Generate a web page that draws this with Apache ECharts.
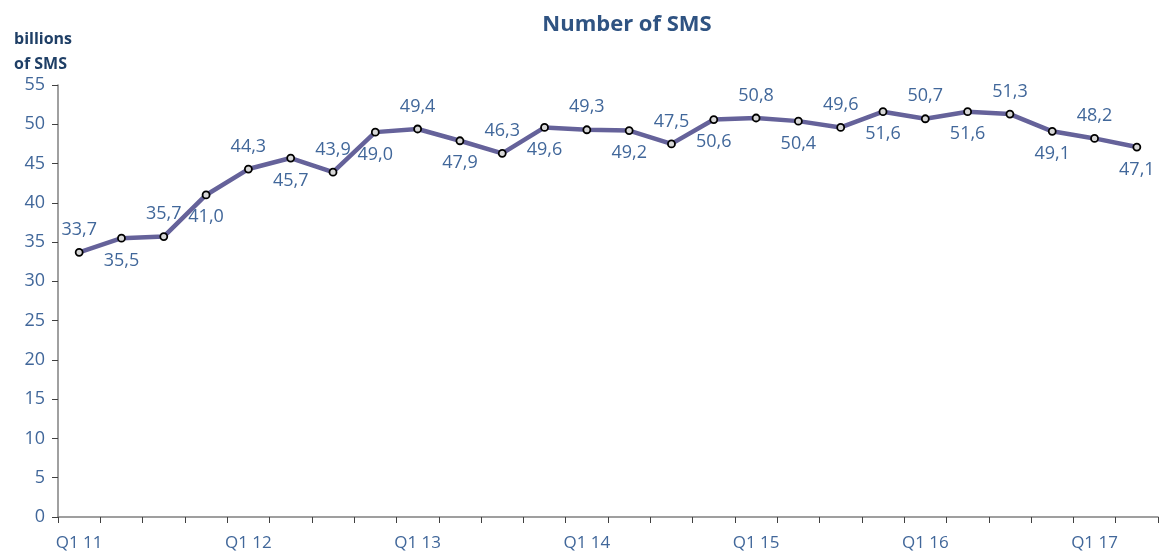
<!DOCTYPE html>
<html>
<head>
    <meta charset="UTF-8">
    <title>Number of SMS</title>
    <script src="https://cdn.jsdelivr.net/npm/echarts@6/dist/echarts.min.js"></script>
    <style>
        body { margin: 0; padding: 0; background: #fff; }
        #main { width: 1165px; height: 552px; }
    </style>
</head>
<body>
<div id="main"></div>
<script type="text/javascript">
    // quarters Q1 11 .. Q2 17
    var quarters = ['Q1 11', 'Q2 11', 'Q3 11', 'Q4 11',
                    'Q1 12', 'Q2 12', 'Q3 12', 'Q4 12',
                    'Q1 13', 'Q2 13', 'Q3 13', 'Q4 13',
                    'Q1 14', 'Q2 14', 'Q3 14', 'Q4 14',
                    'Q1 15', 'Q2 15', 'Q3 15', 'Q4 15',
                    'Q1 16', 'Q2 16', 'Q3 16', 'Q4 16',
                    'Q1 17', 'Q2 17'];
    // billions of SMS
    var smsValues = [33.7, 35.5, 35.7, 41.0, 44.3, 45.7, 43.9, 49.0,
                     49.4, 47.9, 46.3, 49.6, 49.3, 49.2, 47.5, 50.6,
                     50.8, 50.4, 49.6, 51.6, 50.7, 51.6, 51.3, 49.1,
                     48.2, 47.1];

    var txtColor = '#41679a';
    var font = '"Open Sans", sans-serif';

    var myChart = echarts.init(document.getElementById('main'));

    // labels alternate above / below the points
    var points = [];
    for (var i = 0; i < smsValues.length; i++) {
        points.push({
            value: smsValues[i],
            label: { position: (i % 2 === 0) ? 'top' : 'bottom', distance: 9 }
        });
    }

    var option = {
        animation: false,
        title: [{
            text: 'Number of SMS',
            left: 622, top: 9, textAlign: 'center',
            textStyle: { color: '#2f5382', fontSize: 22, fontWeight: 'bold', fontFamily: font }
        }, {
            text: 'billions\nof SMS',
            left: 9, top: 22,
            textStyle: { color: '#1f3f66', fontSize: 16, fontWeight: 'bold', fontFamily: font, lineHeight: 25 }
        }],
        grid: { left: 58, right: 7, top: 85, bottom: 35, containLabel: false },
        xAxis: {
            type: 'category',
            data: quarters,
            boundaryGap: true,
            axisLine: { lineStyle: { color: '#808080', width: 1.5 } },
            axisTick: { show: true, interval: 0, length: 6, lineStyle: { color: '#404040' } },
            axisLabel: { interval: 3, color: txtColor, fontSize: 17, fontFamily: font, margin: 18 }
        },
        yAxis: {
            type: 'value',
            min: 0, max: 55, interval: 5,
            axisLine: { show: true, lineStyle: { color: '#808080', width: 1.5 } },
            axisTick: { show: true, length: 6, lineStyle: { color: '#404040' } },
            splitLine: { show: false },
            axisLabel: { color: txtColor, fontSize: 18, fontFamily: font, margin: 13 }
        },
        series: [{
            type: 'line',
            data: points,
            lineStyle: { color: '#65629a', width: 4.5 },
            symbol: 'circle',
            symbolSize: 7,
            itemStyle: { color: '#d8d8d8', borderColor: '#000', borderWidth: 1.8 },
            label: {
                show: true,
                color: txtColor,
                fontSize: 18,
                fontFamily: font,
                formatter: function (p) { return p.value.toFixed(1).replace('.', ','); }
            }
        }]
    };
    myChart.setOption(option);
</script>
</body>
</html>
